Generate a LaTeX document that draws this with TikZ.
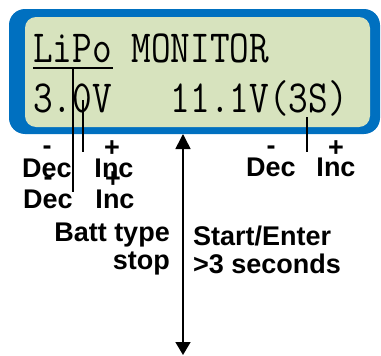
\documentclass[tikz,border=0pt]{standalone}
\usepackage{fontspec}
\setmainfont{Liberation Sans}
\usetikzlibrary{arrows.meta}
\definecolor{lcdblue}{RGB}{0,112,192}
\definecolor{lcdgreen}{RGB}{215,227,190}
\tikzset{
  lcd/.style={anchor=base west,inner sep=0pt,font=\fontsize{46}{46}\selectfont\ttfamily},
  lbl/.style={anchor=base,inner sep=0pt,font=\fontsize{27}{28}\selectfont\bfseries},
  lead/.style={line width=1.2pt},
}

\begin{document}
\begin{tikzpicture}[x=1pt,y=-1pt]
        \useasboundingbox (0,0) rectangle (381,356);
        % display
        \fill[lcdblue,rounded corners=16pt] (9,9) rectangle (380,134);
        \fill[lcdgreen,rounded corners=11pt] (25,17) rectangle (370,127);
        \node[lcd] (top) at (33,63) {\scalebox{0.83}[1]{LiPo MONITOR}};
        \node[lcd] (bot) at (33,112) {\scalebox{0.83}[1]{3.0V\ \ \ 11.1V(3S)}};
        \coordinate (ulA) at (33,68);
        \coordinate (ulB) at (113,68);
        \draw[lead] (ulA)--(ulB);
        % leader lines
        \coordinate (typeA) at (73,68);
        \coordinate (typeB) at (73,192);
        \coordinate (cellA) at (83,100);
        \coordinate (cellB) at (83,152);
        \coordinate (packA) at (307,117);
        \coordinate (packB) at (307,152);
        \draw[lead] (typeA)--(typeB);
        \draw[lead] (cellA)--(cellB);
        \draw[lead] (packA)--(packB);
        % key
        \coordinate (keyA) at (183,134);
        \coordinate (keyB) at (183,355);
        \draw[line width=1.6pt,{Triangle[length=15pt,width=15pt]}-{Triangle[length=13pt,width=15pt]}] (keyA)--(keyB);
        % labels
        \node[lbl] (cellDec) at (47,154) {-};
        \node[lbl] (cellInc) at (112,156) {+};
        \node[lbl] (cellDecT) at (47,177) {Dec};
        \node[lbl] (cellIncT) at (114,177) {Inc};
        \begin{scope}[shift={(1,31)}]
        \node[lbl] (typeDec) at (47,154) {-};
        \node[lbl] (typeInc) at (112,156) {+};
        \node[lbl] (typeDecT) at (47,177) {Dec};
        \node[lbl] (typeIncT) at (114,177) {Inc};
        \end{scope}
        \node[lbl] (packDec) at (271,154) {-};
        \node[lbl] (packInc) at (336,156) {+};
        \node[lbl] (packDecT) at (271,176) {Dec};
        \node[lbl] (packIncT) at (336,176) {Inc};
        \node[lbl,anchor=base east] (battType) at (170,241) {Batt type};
        \node[lbl,anchor=base east] (battStop) at (170,269) {stop};
        \node[lbl,anchor=base west] (startKey) at (193,245) {Start/Enter};
        \node[lbl,anchor=base west] (startSec) at (193,273) {>3 seconds};
\end{tikzpicture}
\end{document}
